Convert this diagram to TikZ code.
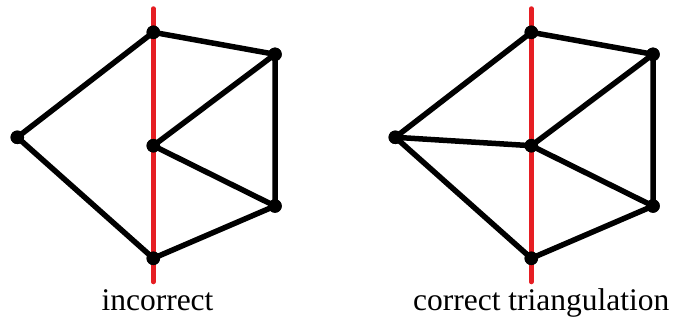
\documentclass[tikz,border=0pt]{standalone}
\usepackage{fontspec}
\setmainfont{Liberation Serif}
\definecolor{cutred}{RGB}{230,30,35}
\begin{document}
\begin{tikzpicture}[x=1pt,y=-1pt,
  vtx/.style={circle,fill=black,inner sep=0pt,minimum size=13.5pt},
  edge/.style={line width=5.5pt,black},
  cut/.style={line width=4.5pt,cutred,line cap=round},
  lbl/.style={font=\fontsize{31.5}{36}\selectfont,anchor=base,inner sep=0pt}]
\useasboundingbox (0,0) rectangle (678,324);
% left figure
\coordinate (c1a) at (153.3,8.5);
\coordinate (c1b) at (153.3,282);
\draw[cut] (c1a) -- (c1b);
\node[vtx] (t1) at (153.3,32.3) {};
\node[vtx] (rt1) at (275,54.3) {};
\node[vtx] (m1) at (153.3,145.7) {};
\node[vtx] (l1) at (17.3,137.3) {};
\node[vtx] (rb1) at (275,206) {};
\node[vtx] (b1) at (153.3,258.3) {};
\draw[edge] (t1.center) -- (rt1.center) -- (rb1.center) -- (b1.center) -- (l1.center) -- (t1.center);
\draw[edge] (rt1.center) -- (m1.center) -- (rb1.center);
\foreach \n in {t1,rt1,m1,l1,rb1,b1} \node[vtx] at (\n) {};
\node[lbl] (lab1) at (157.5,310) {incorrect};
% right figure
\coordinate (c2a) at (531.3,8.5);
\coordinate (c2b) at (531.3,282);
\draw[cut] (c2a) -- (c2b);
\node[vtx] (t2) at (531.3,32.3) {};
\node[vtx] (rt2) at (653,54.3) {};
\node[vtx] (m2) at (531.3,145.7) {};
\node[vtx] (l2) at (395.3,137.3) {};
\node[vtx] (rb2) at (653,206) {};
\node[vtx] (b2) at (531.3,258.3) {};
\draw[edge] (t2.center) -- (rt2.center) -- (rb2.center) -- (b2.center) -- (l2.center) -- (t2.center);
\draw[edge] (rt2.center) -- (m2.center) -- (rb2.center);
\draw[edge] (l2.center) -- (m2.center);
\foreach \n in {t2,rt2,m2,l2,rb2,b2} \node[vtx] at (\n) {};
\node[lbl] (lab2) at (541.3,310) {correct triangulation};
\end{tikzpicture}
\end{document}
